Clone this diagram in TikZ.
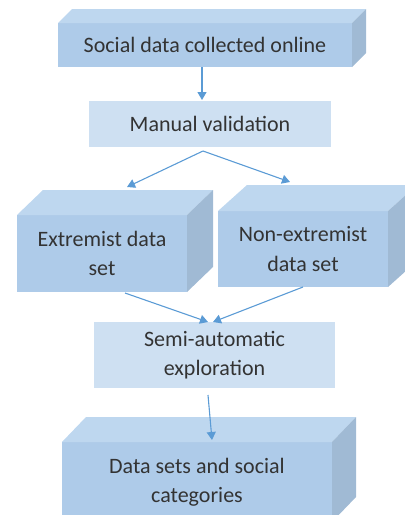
\documentclass[tikz,border=0pt]{standalone}
\usepackage{fontspec}
\setmainfont{Carlito}
\usetikzlibrary{arrows.meta}

\definecolor{frontblue}{HTML}{AECBE9}
\definecolor{topblue}{HTML}{BED7EF}
\definecolor{sideblue}{HTML}{A0BAD4}
\definecolor{flatblue}{HTML}{CEE0F2}
\definecolor{arrowblue}{HTML}{5B9BD5}
\definecolor{textgray}{HTML}{333333}

\tikzset{
  block/.style={rectangle, fill=frontblue, outer sep=0pt, inner sep=0pt, align=center,
    text=textgray, font=\fontsize{22}{29.5}\selectfont},
  flatblock/.style={block, fill=flatblue},
  flow/.style={arrowblue, line width=1.1pt, -{Triangle[width=9pt,length=8pt]}}
}

% top and right faces of a box: node, depth x, depth y
\newcommand{\boxfaces}[3]{
  \fill[topblue] (#1.north west) -- ++(#2,-#3) -- ([shift={(#2,-#3)}]#1.north east) -- (#1.north east) -- cycle;
  \fill[sideblue] (#1.north east) -- ++(#2,-#3) -- ([shift={(#2,-#3)}]#1.south east) -- (#1.south east) -- cycle;
}

\begin{document}
\begin{tikzpicture}[x=1pt, y=-1pt]
  \useasboundingbox (0,0) rectangle (405,515);

  \node[block, minimum width=294pt, minimum height=44pt] (collect) at (205, 45) {Social data collected online};
  \node[flatblock, minimum width=242pt, minimum height=46pt] (manual) at (210, 124) {Manual validation};
  \node[block, minimum width=170pt, minimum height=77pt] (extreme) at (102, 253.5) {Extremist data\\set};
  \node[block, minimum width=170pt, minimum height=76pt] (nonext) at (303, 249) {Non-extremist\\data set};
  \node[flatblock, minimum width=241pt, minimum height=66pt] (explore) at (214.5, 355) {Semi-automatic\\exploration};
  \node[block, minimum width=270pt, minimum height=80pt] (categories) at (197, 482) {Data sets and social\\categories};

  \boxfaces{collect}{14}{14}
  \boxfaces{extreme}{26}{25}
  \boxfaces{nonext}{29}{26}
  \boxfaces{categories}{24}{25}

  \draw[flow] ([xshift=-3pt]collect.south) -- ([xshift=-8pt, yshift=1pt]manual.north);
  \draw[flow] ([xshift=-7pt, yshift=-4pt]manual.south) -- ([xshift=25pt, yshift=28pt]extreme.north);
  \draw[flow] ([xshift=-7pt, yshift=-4pt]manual.south) -- ([xshift=-13pt, yshift=29pt]nonext.north);
  \draw[flow] ([xshift=23pt, yshift=-1pt]extreme.south) -- ([xshift=-6.5pt]explore.north);
  \draw[flow] (nonext.south) -- ([xshift=-1.5pt]explore.north);
  \draw[flow] ([xshift=-6.5pt, yshift=-7pt]explore.south) -- ([xshift=15pt, yshift=2pt]categories.north);
\end{tikzpicture}
\end{document}
